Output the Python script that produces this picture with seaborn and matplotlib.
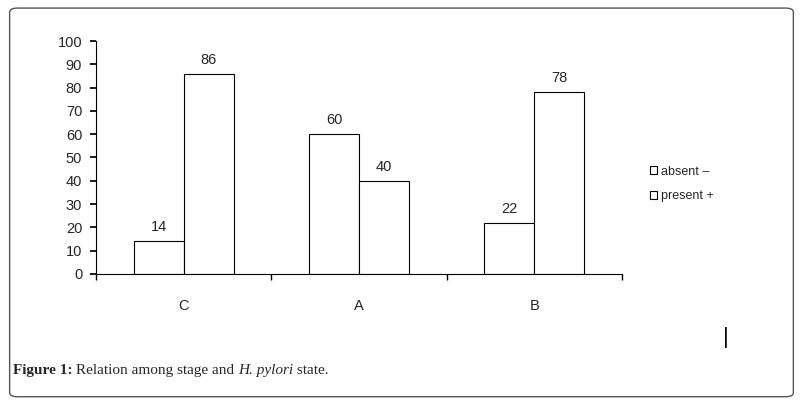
import pandas as pd
import matplotlib.pyplot as plt
import seaborn as sns
from matplotlib.patches import FancyBboxPatch, Patch

# --- Datos ---
STAGES = ["C", "A", "B"]
ABSENT = [14, 60, 22]
PRESENT = [86, 40, 78]
SERIES = ["absent \u2013", "present +"]

sns.set_theme(style='white')
plt.rcParams['font.family'] = ['Liberation Sans', 'DejaVu Sans']

df = pd.DataFrame({
    'stage': STAGES * 2,
    'value': ABSENT + PRESENT,
    'state': [SERIES[0]] * 3 + [SERIES[1]] * 3,
})

fig = plt.figure(figsize=(8.03, 4.04), dpi=100)
fig.patches.append(FancyBboxPatch((0.012, 0.018), 0.976, 0.962, boxstyle='round,pad=0,rounding_size=0.01',
                                  transform=fig.transFigure, fill=False, edgecolor='#555555', linewidth=1))
ax = fig.add_axes([0.1196, 0.3218, 0.655, 0.5767])

sns.barplot(data=df, x='stage', y='value', hue='state', order=STAGES, hue_order=SERIES,
            palette=['white', 'white'], edgecolor='black', linewidth=0.8, width=0.57,
            legend=False, ax=ax)

for cont in ax.containers:
    ax.bar_label(cont, padding=5, fontsize=10.5)

ax.set_ylim(0, 100)
ax.set_yticks(range(0, 101, 10))
ax.set_xlim(-0.5, 2.5)
ax.set_xlabel('')
ax.set_ylabel('')
for s in ['top', 'right']:
    ax.spines[s].set_visible(False)
for s in ['left', 'bottom']:
    ax.spines[s].set_color('black')
    ax.spines[s].set_linewidth(0.8)
ax.tick_params(axis='y', left=True, length=4, color='black', labelsize=10.5, pad=6)
ax.tick_params(axis='x', which='major', bottom=False, labelsize=10.5, pad=12)
ax.set_xticks([-0.5, 0.5, 1.5, 2.5], minor=True)
ax.tick_params(axis='x', which='minor', bottom=True, length=4, color='black')

handles = [Patch(facecolor='white', edgecolor='black', linewidth=0.8) for _ in SERIES]
fig.legend(handles, SERIES, loc='center left', bbox_to_anchor=(0.795, 0.545), frameon=False,
           fontsize=9, handlelength=0.6, handleheight=0.6, handletextpad=0.3, labelspacing=1.0)

fig.text(0.904, 0.165, '|', fontsize=16, ha='center', va='center', color='black')

# pie de figura, en trozos encadenados
cf = ['Liberation Serif', 'DejaVu Serif']
t = fig.text(0.016, 0.075, 'Figure 1:', fontsize=11, family=cf, weight='bold')
for txt, st in [(' Relation among stage and ', 'normal'), ('H. pylori', 'italic'), (' state.', 'normal')]:
    t = ax.annotate(txt, xy=(1, 0), xycoords=t, va='bottom', ha='left',
                    fontsize=11, family=cf, style=st)

fig.savefig('out.png', dpi=100)
